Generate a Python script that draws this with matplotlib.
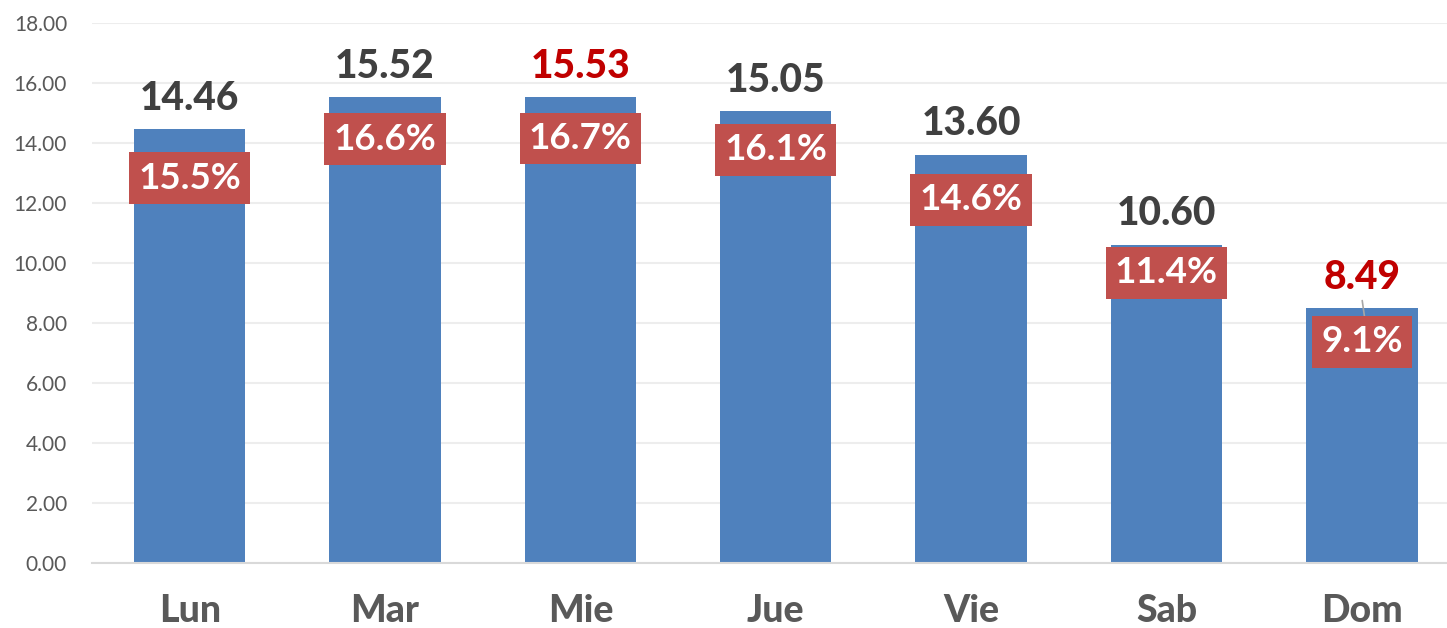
import matplotlib
matplotlib.use('Agg')
from matplotlib import pyplot as plt

days = ['Lun', 'Mar', 'Mie', 'Jue', 'Vie', 'Sab', 'Dom']
values = [14.46, 15.52, 15.53, 15.05, 13.60, 10.60, 8.49]
shares = [15.5, 16.6, 16.7, 16.1, 14.6, 11.4, 9.1]
highlight = ['Mie', 'Dom']  # max and min days shown in red

# how far below the bar top each share box sits (data units)
box_drop = [1.63, 1.39, 1.39, 1.28, 1.50, 0.93, 1.12]

plt.rcParams['font.family'] = ['Lato', 'DejaVu Sans']

fig = plt.figure(figsize=(14.47, 6.28), dpi=100)
ax = fig.add_axes([0.0636, 0.1035, 0.9364, 0.8599])

x = list(range(len(days)))
ax.bar(x, values, width=0.57, color='#4F81BD', zorder=2)

for i, (d, v, s) in enumerate(zip(days, values, shares)):
    col = '#C00000' if d in highlight else '#404040'
    ax.annotate('{:.2f}'.format(v), (i, v), xytext=(0, 9), textcoords='offset points',
                ha='center', va='bottom', fontsize=28, fontweight='black', color=col)
    ax.text(i, v - box_drop[i], '{:.1f}%'.format(s), ha='center', va='center',
            fontsize=26.5, fontweight='bold', color='white', zorder=4,
            bbox=dict(boxstyle='square,pad=0.25', fc='#C0504D', ec='none'))

# leader line on the last label (moved off its bar in the original)
ax.annotate('', xy=(6.02, values[-1] - box_drop[-1] + 0.55), xytext=(6.0, values[-1] + 0.35),
            arrowprops=dict(arrowstyle='-', color='#A6A6A6', lw=1.2), zorder=3)

ax.set_xlim(-0.5, 6.436)
ax.set_ylim(0, 18)
ax.set_yticks([0, 2, 4, 6, 8, 10, 12, 14, 16, 18])
ax.set_yticklabels(['{:.2f}'.format(t) for t in ax.get_yticks()])
ax.set_xticks(x)
ax.set_xticklabels(days, fontsize=27, fontweight='black', color='#595959')
ax.tick_params(axis='y', labelsize=15, labelcolor='#595959', length=0, pad=18)
ax.tick_params(axis='x', length=0, pad=22)

ax.grid(axis='y', color='#EDEDED', linewidth=1.5, zorder=0)
for side in ['top', 'right', 'left']:
    ax.spines[side].set_visible(False)
ax.spines['bottom'].set_color('#D9D9D9')
ax.spines['bottom'].set_linewidth(1.5)

fig.savefig('out.png', dpi=100)
